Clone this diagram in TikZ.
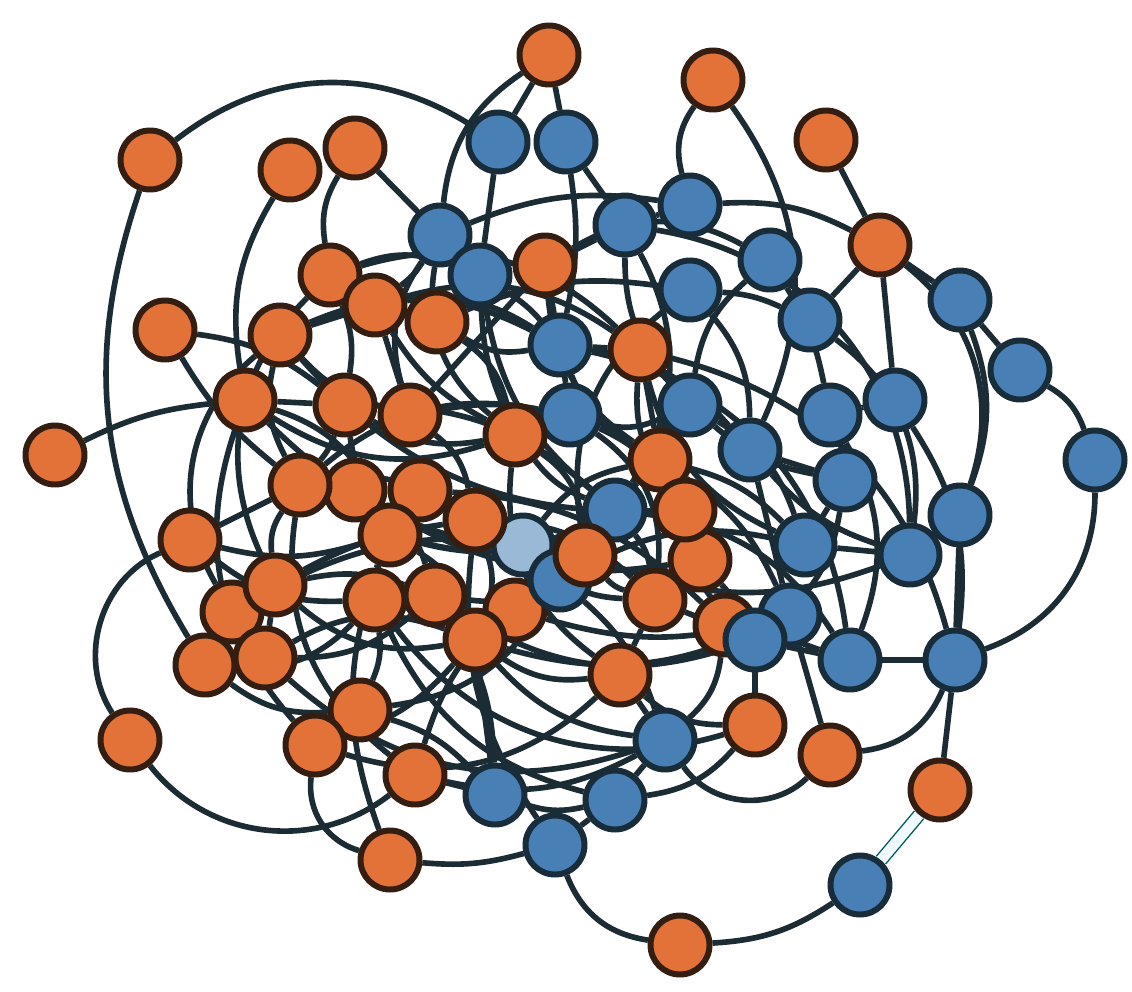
\documentclass[tikz,border=0pt]{standalone}
\usepackage{xcolor}
\usepackage{tikz}
\usetikzlibrary{backgrounds}

\definecolor{nodeorange}{RGB}{226,114,56}
\definecolor{nodeblue}{RGB}{72,128,182}
\definecolor{rimbrown}{RGB}{52,30,18}
\definecolor{rimnavy}{RGB}{24,44,58}
\definecolor{linkcol}{RGB}{28,44,52}

\begin{document}
\begin{tikzpicture}[x=0.02cm, y=-0.02cm,
    onode/.style={circle, draw=rimbrown, fill=nodeorange, line width=3.4pt, minimum size=1.18cm, inner sep=0pt},
    bnode/.style={circle, draw=rimnavy, fill=nodeblue, line width=3.4pt, minimum size=1.18cm, inner sep=0pt},
    link/.style={draw=linkcol, line width=3.2pt}]
    \useasboundingbox (0,0) rectangle (1132,991);

    % nodes half hidden behind the others
    \foreach \n/\x/\y in {44/355/490, 45/420/490, 46/437/322, 47/515/610, 48/700/560, 49/725/625, 30/232/612}
        \node (o\n) [onode] at (\x,\y) {};
    \node (b34) [bnode, fill=nodeblue!55!white] at (523,545) {};

    % blue nodes
    \foreach \n/\x/\y in {1/498/142, 2/566/142, 3/625/225, 4/690/205, 5/440/235, 6/480/275, 7/770/260, 8/690/290,
        9/810/320, 10/960/300, 11/1020/370, 12/1095/460, 13/560/345, 14/570/415, 15/690/405, 16/750/450,
        17/830/415, 18/895/400, 19/845/480, 20/960/515, 21/615/510, 22/805/545, 23/910/555, 24/560/580,
        25/790/615, 26/755/640, 27/850/660, 28/955/660, 29/665/740, 30/495/795, 31/615/800, 32/555/845, 33/860/885}
        \node (b\n) [bnode] at (\x,\y) {};

    % orange nodes
    \foreach \n/\x/\y in {1/549/55, 2/713/80, 3/826/140, 4/150/160, 5/290/170, 6/355/148, 7/880/245, 8/165/330,
        9/280/335, 10/330/275, 11/375/305, 12/545/265, 13/640/350, 14/245/400, 15/345/405, 16/410/415,
        17/515/435, 18/55/455, 19/300/485, 20/660/460, 21/685/510, 22/190/540, 23/475/520, 24/390/535,
        25/585/555, 26/275/585, 27/375/600, 28/435/595, 29/655/600, 31/475/640, 32/205/665, 33/265/658,
        34/620/675, 35/360/710, 36/130/740, 37/315/745, 38/415/775, 39/755/725, 40/830/755, 41/940/790,
        42/390/860, 43/680/945}
        \node (o\n) [onode] at (\x,\y) {};

    \begin{pgfonlayer}{background}
        \fill[white] (0,0) rectangle (1132,991);
        % outer links
        \foreach \a/\b/\c in {o4/b1/35, o4/o32/-25, o36/o22/50, o36/o38/-45, o42/b32/-10, o42/o37/40, o43/b32/30,
            o43/b33/-15, b28/o41/0, o3/o7/0, o2/b4/-25, o2/b16/30, o1/b1/0, o1/b2/0, o1/b5/-25, b4/o7/15,
            b5/b4/15, o7/b10/0, b10/b11/0, b11/b12/20, o7/b18/0, o7/b20/35, o7/b9/0, b12/b28/35, b20/b28/0,
            b28/o40/30, b29/o40/-50, o18/o14/10, o8/o19/-10, o5/o14/-20, o6/o10/-20, o6/b6/0, o22/o19/0,
            o9/o30/-40, o12/b7/30, b9/b23/30, b18/b28/20, b17/b27/25, b10/b20/20, b26/o39/0, b25/o40/0,
            o39/b31/20, b29/b31/0, b30/b31/-15, b30/o38/0, b30/o31/0, b32/b31/0, o34/b29/0, o34/o39/-20,
            b24/b29/15, o10/o26/-35, o14/o37/-30, o24/o42/-20, o19/o38/-30, o28/b30/15, o23/b32/-20,
            o27/b31/-25, b13/b27/35, b3/b23/40, o13/b28/30}
            \draw[link] (\a) to[bend left=\c] (\b);
        % inner links
        \foreach \a/\b/\c in {o11/b13/20, o11/o16/0, o15/o17/-20, o10/b6/20, o9/o16/-15, o14/o17/-25,
            o19/o23/20, o24/b21/-20, o26/o28/15, o27/b24/-20, o33/o31/25, o32/o35/-20, o35/b30/15,
            o37/o34/-30, o38/b24/20, o26/o23/10, o22/o24/-15, o30/o25/20, o9/b13/25, o12/o16/0, b6/o17/-10,
            b13/o20/-20, b14/o21/15, b3/b15/-20, b8/b16/20, b15/b19/-15, b7/b17/10, b13/b16/20, o13/b22/-25,
            o20/b25/15, o21/b26/-20, b21/b27/25, o25/b23/-20, b14/o29/30, o17/o34/-30, o23/o29/20,
            o28/b26/-25, b24/b22/20, o31/b25/-20, o27/o39/-35, o33/b29/-30, o15/b21/20, o16/b14/10,
            o11/o13/25, o10/o13/30, o19/b14/25, o24/o20/-30, o14/o25/-20, o9/o21/-25, b6/b21/-20,
            b5/o17/-30, o12/o20/-25, b3/b21/30, b8/o25/-30, b2/b13/10, b1/b6/0, b2/b3/0, b3/b4/0, o12/b3/0,
            b13/o13/0, b15/o13/0, b16/b19/0, b17/b18/0, b19/b22/0, b22/b23/0, b25/b26/0, b27/b28/0,
            b23/b20/0, o20/o21/0, o25/o29/-15, o29/b26/0, o31/o34/-20, o23/o31/20, o28/o31/0, o27/o35/15,
            o26/o33/0, o24/o27/-10, o19/o26/-20, o15/o19/10, o14/o15/0, o9/o11/0, o10/o11/0, o44/o48/-20,
            o45/o49/20, o46/b8/15, o47/b25/-15, b34/o20/20, o8/o15/15}
            \draw[link] (\a) to[bend left=\c] (\b);
        % more inner links, the dense core
        \foreach \a/\b/\c in {o11/o17/-15, o16/o23/20, o15/o24/-10, o14/o24/25, o9/o19/-20, o10/o15/15,
            o46/b13/-20, o46/o17/20, o12/b13/0, b6/b14/25, b5/o11/10, b5/o16/-25, o17/b21/-15, o17/o25/25,
            o23/o25/-20, o23/b24/10, o24/o31/20, o27/o28/0, o28/b24/-15, o26/o31/-25, o33/o28/-20,
            o32/o27/-25, o22/o27/-20, o19/o24/15, o44/o28/20, o45/o25/-10, b34/b24/0, b34/o29/-20,
            o31/b29/-20, o35/b24/-25, o37/o31/-15, o38/b29/-20, o13/o21/-20, b15/b22/20, b16/b23/-15,
            b19/b26/20, o20/b22/15, o21/b24/-25, b21/o29/15, b14/b15/-20, o13/o20/0, b8/b9/10, b7/b15/-20,
            b16/b25/0, o48/b27/-15, o49/b29/20, o29/o34/0, b26/b27/0}
            \draw[link] (\a) to[bend left=\c] (\b);
        \draw[draw=teal!70!black, line width=0.8pt, double=cyan!6, double distance=6pt] (o41) -- (b33);
    \end{pgfonlayer}
\end{tikzpicture}
\end{document}
